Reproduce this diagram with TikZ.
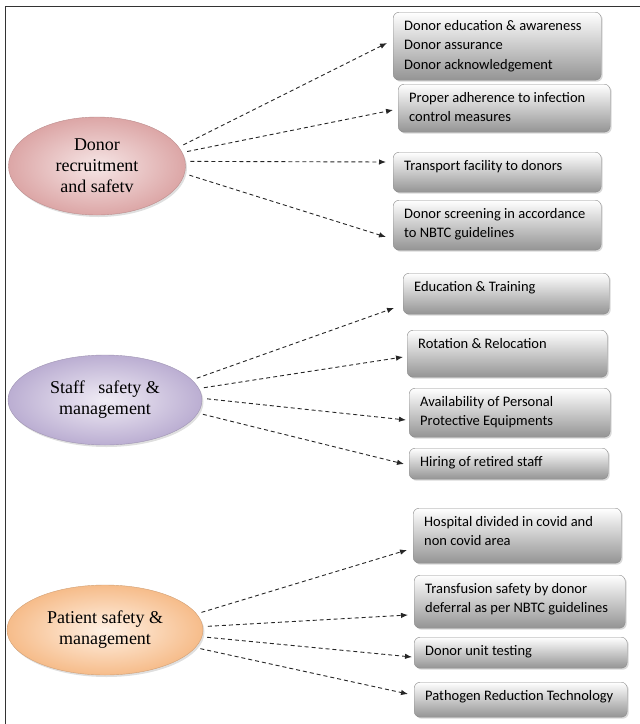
\documentclass[tikz,border=0pt]{standalone}
\usepackage{fontspec}
\setmainfont{Liberation Serif}
\newfontfamily\boxfont{Carlito}
\usetikzlibrary{shapes.geometric,shadows,arrows.meta}

\definecolor{roseIn}{HTML}{F6E6E6}
\definecolor{roseOut}{HTML}{DCA6A6}
\definecolor{lilacIn}{HTML}{F0ECF5}
\definecolor{lilacOut}{HTML}{BBAED2}
\definecolor{peachIn}{HTML}{FFF1E4}
\definecolor{peachOut}{HTML}{F6BC8A}

\tikzset{
  goal/.style={ellipse, inner sep=0pt, align=center,
    font=\fontsize{18}{21}\selectfont,
    shading=radial, inner color=#1In, outer color=#1Out, draw=#1Out!85!black,
    drop shadow={shadow xshift=1.5pt, shadow yshift=-2pt, opacity=0.25}},
  measure/.style={rectangle, rounded corners=6pt, anchor=north west,
    draw=black!45, top color=white, bottom color=black!42,
    drop shadow={shadow xshift=1.5pt, shadow yshift=-1.5pt, opacity=0.3}},
  measuretext/.style={anchor=north west, align=left, inner xsep=11pt, inner ysep=8pt,
    font=\boxfont\fontsize{14.5}{19.5}\selectfont},
  link/.style={draw=black!85, line width=0.9pt, dash pattern=on 4pt off 3pt,
    -{Latex[length=7pt,width=5.5pt]}, shorten <=5pt}
}

\begin{document}
\begin{tikzpicture}[x=1pt, y=-1pt]
\useasboundingbox (0,0) rectangle (640,724);
\draw[black!80, line width=1pt] (5,724) -- (5,6) -- (640,6);

% the three areas
\node[goal=rose, minimum width=177pt, minimum height=98pt] (donor) at (97,166)
  {Donor\\recruitment\\and safetv};
\node[goal=lilac, minimum width=194pt, minimum height=90pt] (staff) at (105,400)
  {Staff~~ safety \&\\management};
\node[goal=peach, minimum width=196pt, minimum height=90pt] (patient) at (105,630)
  {Patient safety \&\\management};

% measures: name / x / y / width / height / text
\foreach \n/\x/\y/\w/\h/\t in {
    b1/393/12/208/68/{Donor education \& awareness\\Donor assurance\\Donor acknowledgement},
    b2/398/84/212/48/{Proper adherence to infection\\control measures},
    b3/393/152/208/40/{Transport facility to donors},
    b4/393/200/208/50/{Donor screening in accordance\\to NBTC guidelines},
    b5/403/273/206/41/{Education \& Training},
    b6/407/330/200/47/{Rotation \& Relocation},
    b7/409/388/201/49/{Availability of Personal\\Protective Equipments},
    b8/409/448/199/31/{Hiring of retired staff},
    b9/413/508/208/55/{Hospital divided in covid and\\non covid area},
    b10/414/575/211/53/{Transfusion safety by donor\\deferral as per NBTC guidelines},
    b11/414/637/213/31/{Donor unit testing},
    b12/414/682/213/35/{Pathogen Reduction Technology}
} {
    \node[measure, minimum width=\w pt, minimum height=\h pt] (\n) at (\x,\y) {};
    \node[measuretext] (t\n) at (\n.north west) {\t};
  }

% dashed links
\foreach \a/\b/\dx/\dy in {13/b1/-6/31, 9/b2/-5/26, 3/b3/-7/10, -5/b4/-7/37} {
    \draw[link] (donor.\a) -- ([shift={(\dx,\dy)}]\b.north west);
  }
\foreach \a/\b/\dx/\dy in {13/b5/-9/35, 7/b6/-4/27, 1/b7/-3/32, -8/b8/-5/16} {
    \draw[link] (staff.\a) -- ([shift={(\dx,\dy)}]\b.north west);
  }
\foreach \a/\b/\dx/\dy in {10/b9/-6/42, 2/b10/-6/40, -4/b11/-2/20, -11/b12/-6/12} {
    \draw[link] (patient.\a) -- ([shift={(\dx,\dy)}]\b.north west);
  }
\end{tikzpicture}
\end{document}
